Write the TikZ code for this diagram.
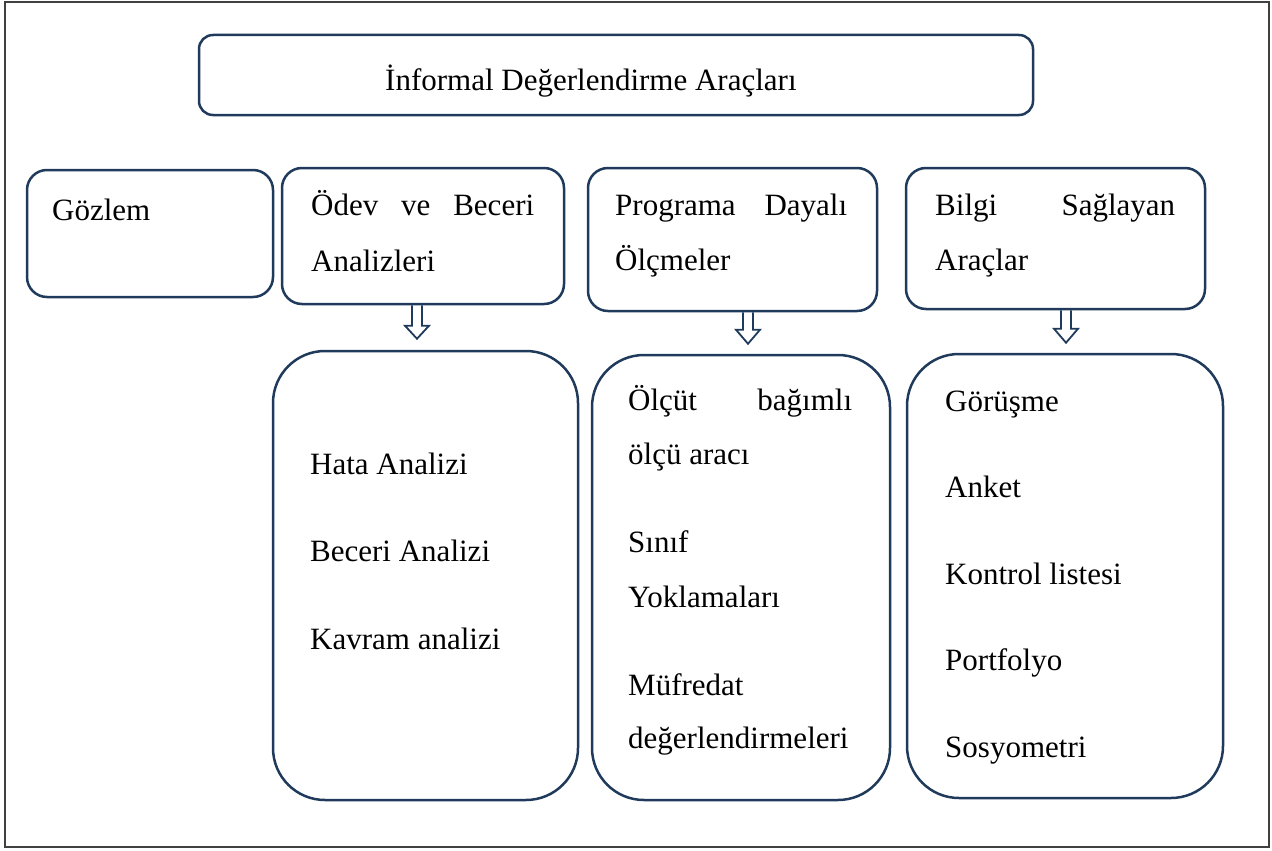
\documentclass[tikz,border=0pt]{standalone}
\usepackage{fontspec}
\setmainfont{Liberation Serif}
\usepackage{tikz}
\definecolor{nb}{RGB}{31, 58, 90}
\definecolor{fr}{RGB}{64, 64, 64}
\usetikzlibrary{calc}
\tikzset{
  box/.style={draw=nb, line width=2.5pt, rounded corners=20pt, inner sep=0pt},
  bigbox/.style={box, rounded corners=52pt},
  txt/.style={anchor=base west, inner sep=0pt, font=\fontsize{31}{37}\selectfont},
  hollow/.style={draw=nb, line width=1.8pt, line join=miter}
}
\begin{document}
\begin{tikzpicture}
\useasboundingbox (0pt, 0pt) rectangle (1272pt, -851pt);
\draw [line width=1.2pt, color=fr] (5pt, -2pt) rectangle (1269pt, -847pt);
\node (1) [box, rounded corners=14pt, minimum width=834pt, minimum height=80pt] at (616pt, -75pt) {};
\node (2) [box, minimum width=246pt, minimum height=127pt] at (150pt, -233.5pt) {};
\node (3) [box, minimum width=282pt, minimum height=136pt] at (423pt, -236pt) {};
\node (4) [box, minimum width=289pt, minimum height=143pt] at (732.5pt, -239.5pt) {};
\node (5) [box, minimum width=299pt, minimum height=141pt] at (1055.5pt, -238.5pt) {};
\node (6) [bigbox, minimum width=305pt, minimum height=449pt] at (425.5pt, -575.5pt) {};
\node (7) [bigbox, minimum width=298pt, minimum height=445pt] at (741pt, -577.5pt) {};
\node (8) [bigbox, minimum width=316pt, minimum height=444pt] at (1065pt, -576pt) {};
\node (1a) [txt] at (385pt, -90pt) {İnformal Değerlendirme Araçları};
\node (2a) [txt] at (52pt, -220pt) {Gözlem};
\node (3a) [txt] at (311pt, -215pt) {\makebox[223pt][s]{Ödev ve Beceri}};
\node (3b) [txt] at (311pt, -271pt) {Analizleri};
\node (4a) [txt] at (615pt, -215pt) {\makebox[232pt][s]{Programa Dayalı}};
\node (4b) [txt] at (615pt, -270pt) {Ölçmeler};
\node (5a) [txt] at (935pt, -215pt) {\makebox[240pt][s]{Bilgi Sağlayan}};
\node (5b) [txt] at (935pt, -270pt) {Araçlar};
\node (6a) [txt] at (310pt, -474pt) {Hata Analizi};
\node (6b) [txt] at (310pt, -561pt) {Beceri Analizi};
\node (6c) [txt] at (310pt, -649pt) {Kavram analizi};
\node (7a) [txt] at (628pt, -410pt) {\makebox[224pt][s]{Ölçüt bağımlı}};
\node (7b) [txt] at (628pt, -464pt) {ölçü aracı};
\node (7c) [txt] at (628pt, -552pt) {Sınıf};
\node (7d) [txt] at (628pt, -607pt) {Yoklamaları};
\node (7e) [txt] at (628pt, -695pt) {Müfredat};
\node (7f) [txt] at (628pt, -748pt) {değerlendirmeleri};
\node (8a) [txt] at (945pt, -411pt) {Görüşme};
\node (8b) [txt] at (945pt, -497pt) {Anket};
\node (8c) [txt] at (945pt, -584pt) {Kontrol listesi};
\node (8d) [txt] at (945pt, -670pt) {Portfolyo};
\node (8e) [txt] at (945pt, -757pt) {Sosyometri};
\draw [hollow] let \p1=(3.south), \p2=(6.north) in (412pt, \y1) -- (412pt, \y2+24pt) -- (405pt, \y2+24pt) -- (417pt, \y2+11pt) -- (429pt, \y2+24pt) -- (422pt, \y2+24pt) -- (422pt, \y1);
\draw [hollow] let \p1=(4.south), \p2=(7.north) in (743pt, \y1) -- (743pt, \y2+24pt) -- (736pt, \y2+24pt) -- (748pt, \y2+10pt) -- (760pt, \y2+24pt) -- (753pt, \y2+24pt) -- (753pt, \y1);
\draw [hollow] let \p1=(5.south), \p2=(8.north) in (1061pt, \y1) -- (1061pt, \y2+24pt) -- (1054pt, \y2+24pt) -- (1066pt, \y2+10pt) -- (1078pt, \y2+24pt) -- (1071pt, \y2+24pt) -- (1071pt, \y1);
\end{tikzpicture}
\end{document}
